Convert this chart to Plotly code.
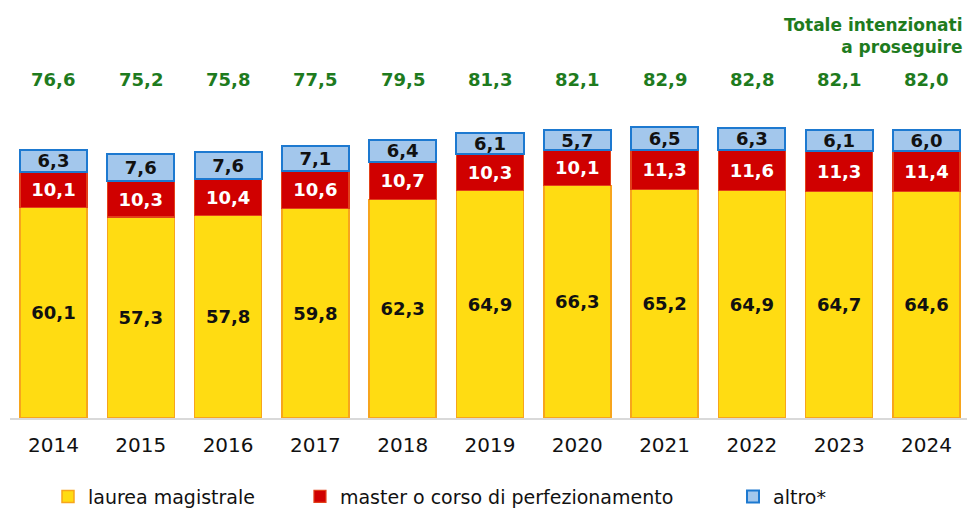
import plotly.graph_objects as go

years = ["2014", "2015", "2016", "2017", "2018", "2019", "2020", "2021", "2022", "2023", "2024"]
laurea = [60.1, 57.3, 57.8, 59.8, 62.3, 64.9, 66.3, 65.2, 64.9, 64.7, 64.6]
master = [10.1, 10.3, 10.4, 10.6, 10.7, 10.3, 10.1, 11.3, 11.6, 11.3, 11.4]
altro = [6.3, 7.6, 7.6, 7.1, 6.4, 6.1, 5.7, 6.5, 6.3, 6.1, 6.0]
totale = [76.6, 75.2, 75.8, 77.5, 79.5, 81.3, 82.1, 82.9, 82.8, 82.1, 82.0]

series_names = ["laurea magistrale", "master o corso di perfezionamento", "altro*"]

FONT = "DejaVu Sans"
GREEN = "#1E7B1E"


def it(v):
    return f"{v:.1f}".replace(".", ",")


x_idx = list(range(len(years)))

fig = go.Figure()

styles = [
    (laurea, series_names[0], "#FFDC12", "#F7A51C", 1.5, "#111111", "legend"),
    (master, series_names[1], "#D00000", "#E2401A", 1.2, "#FFFFFF", "legend2"),
    (altro, series_names[2], "#A3C7EC", "#1D79D0", 2.0, "#111111", "legend3"),
]

for vals, name, fill, line, lw, tcol, leg in styles:
    fig.add_trace(go.Bar(
        x=x_idx,
        y=vals,
        name=name,
        width=0.768,
        marker=dict(color=fill, line=dict(color=line, width=lw)),
        text=[it(v) for v in vals],
        textposition="inside",
        insidetextanchor="middle",
        textangle=0,
        constraintext="none",
        textfont=dict(family=FONT, size=18, color=tcol, weight="bold"),
        legend=leg,
        hoverinfo="skip",
    ))

# totals row above the bars
for i, t in enumerate(totale):
    fig.add_annotation(
        x=i, y=96.4, xref="x", yref="y",
        text=f"<b>{it(t)}</b>", showarrow=False,
        font=dict(family=FONT, size=18, color=GREEN),
        xanchor="center", yanchor="middle",
    )

fig.add_annotation(
    x=0.998, y=0.914, xref="paper", yref="paper",
    text="<b>Totale intenzionati<br>a proseguire</b>", showarrow=False,
    font=dict(family=FONT, size=17, color=GREEN),
    xanchor="right", yanchor="middle", align="right",
)

legend_common = dict(
    orientation="h", yanchor="middle", y=-0.188, xanchor="left",
    font=dict(family=FONT, size=19, color="#111111"),
    bgcolor="rgba(0,0,0,0)", borderwidth=0,
)

fig.update_layout(
    barmode="stack",
    width=967, height=509,
    margin=dict(l=10, r=0, t=0, b=91, autoexpand=False),
    paper_bgcolor="white", plot_bgcolor="white",
    showlegend=True,
    legend=dict(x=0.0397, **legend_common),
    legend2=dict(x=0.303, **legend_common),
    legend3=dict(x=0.7555, **legend_common),
    xaxis=dict(
        range=[-0.498, 10.464],
        tickmode="array", tickvals=x_idx, ticktext=years,
        tickfont=dict(family=FONT, size=20, color="#111111"),
        showline=True, linecolor="#D9D9D9", linewidth=2,
        showgrid=False, zeroline=False, ticks="",
        ticklabelstandoff=8,
    ),
    yaxis=dict(
        range=[0, 119.2], visible=False, showgrid=False, zeroline=False,
    ),
)

fig.write_html("out.html")
